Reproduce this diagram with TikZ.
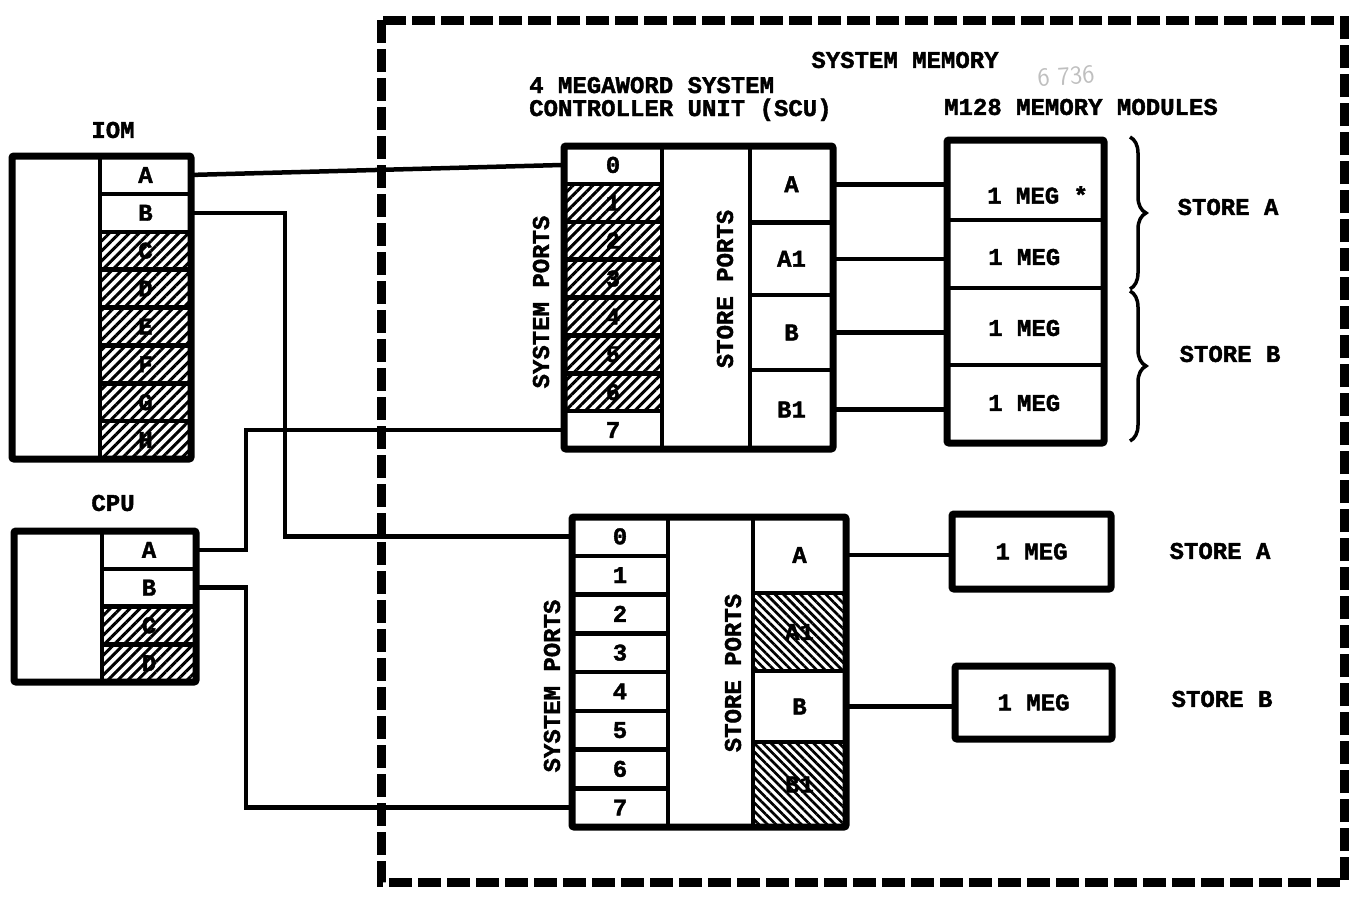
\documentclass[tikz,border=0pt]{standalone}
\usepackage{fontspec}
\newfontfamily\tw{Liberation Mono}[BoldFeatures={FakeBold=1.6}]
\usetikzlibrary{patterns.meta,decorations.pathreplacing}
\begin{document}
\begin{tikzpicture}[x=1pt,y=-1pt,
  every node/.style={font=\tw\bfseries\fontsize{24}{23}\selectfont, inner sep=0pt},
  cellbox/.style={draw, line width=4.5pt, fill=white, inner sep=0pt, outer sep=0pt},
  outerbox/.style={draw, line width=7pt, rounded corners=2pt, inner sep=0pt, outer sep=0pt},
  wire/.style={line width=4.5pt},
  hatchR/.style={line width=4.5pt, pattern={Lines[angle=45,distance=7pt,line width=3pt]}},
  hatchL/.style={line width=4.5pt, pattern={Lines[angle=-45,distance=6pt,line width=2.7pt]}},
  frame/.style={line width=9pt, dash pattern=on 23pt off 6pt},
  curly/.style={line width=3.5pt, decorate, decoration={brace, amplitude=16pt}}
]
\useasboundingbox (0,0) rectangle (1353,897);

% dashed system memory frame
\draw[frame] (381,20) rectangle (1344,882);

% headings
\node (hsys) at (905,60) {SYSTEM MEMORY};
\node[anchor=west, align=left] (hscu) at (529,99) {4 MEGAWORD SYSTEM\\CONTROLLER UNIT (SCU)};
\node (hm128) at (1081,107) {M128 MEMORY MODULES};
\node[text=gray!50, rotate=4, font=\sffamily\fontsize{26}{26}\selectfont] (scrib) at (1066,76) {6 736};
\node (liom) at (113,130) {IOM};
\node (lcpu) at (113,503) {CPU};

% IOM
\foreach \n [count=\i from 0] in {A,B,C,D,E,F,G,H}
  \node[cellbox, minimum width=91, minimum height=37.875] (iom\n) at (145.5,{156+37.875*(\i+0.5)}) {\n};
\foreach \n in {C,D,E,F,G,H}
  \filldraw[hatchR] (iom\n.south west) rectangle (iom\n.north east);
\node[outerbox, minimum width=179, minimum height=303] (iom) at (101.5,307.5) {};

% CPU
\foreach \n [count=\i from 0] in {A,B,C,D}
  \node[cellbox, minimum width=94, minimum height=37.75] (cpu\n) at (149,{531+37.75*(\i+0.5)}) {\n};
\foreach \n in {C,D}
  \filldraw[hatchR] (cpu\n.south west) rectangle (cpu\n.north east);
\node[outerbox, minimum width=182, minimum height=151] (cpu) at (105,606.5) {};

% SCU 1
\foreach \i in {0,...,7}
  \node[cellbox, minimum width=98, minimum height=37.875] (s1p\i) at (613,{146+37.875*(\i+0.5)}) {\i};
\foreach \i in {1,...,6}
  \filldraw[hatchR] (s1p\i.south west) rectangle (s1p\i.north east);
\node[cellbox, minimum width=88, minimum height=303] (s1mid) at (706,297.5) {};
\node[cellbox, minimum width=83, minimum height=76.5] (s1A) at (791.5,184.25) {A};
\node[cellbox, minimum width=83, minimum height=72.5] (s1A1) at (791.5,258.75) {A1};
\node[cellbox, minimum width=83, minimum height=75] (s1B) at (791.5,332.5) {B};
\node[cellbox, minimum width=83, minimum height=79] (s1B1) at (791.5,409.5) {B1};
\node[outerbox, minimum width=269, minimum height=303] (scu1) at (698.5,297.5) {};
\node[rotate=90] (s1sys) at (541,302) {SYSTEM PORTS};
\node[rotate=90] (s1sto) at (725,289) {STORE PORTS};

% SCU 2
\foreach \i in {0,...,7}
  \node[cellbox, minimum width=96, minimum height=38.75] (s2p\i) at (620,{517+38.75*(\i+0.5)}) {\i};
\node[cellbox, minimum width=85, minimum height=310] (s2mid) at (710.5,672) {};
\node[cellbox, minimum width=93, minimum height=76] (s2A) at (799.5,555) {A};
\node[cellbox, minimum width=93, minimum height=78] (s2A1) at (799.5,632) {A1};
\node[cellbox, minimum width=93, minimum height=71] (s2B) at (799.5,706.5) {B};
\node[cellbox, minimum width=93, minimum height=85] (s2B1) at (799.5,784.5) {B1};
\filldraw[hatchL] (s2A1.south west) rectangle (s2A1.north east);
\filldraw[hatchL] (s2B1.south west) rectangle (s2B1.north east);
\node[outerbox, minimum width=274, minimum height=310] (scu2) at (709,672) {};
\node[rotate=90] (s2sys) at (552,686) {SYSTEM PORTS};
\node[rotate=90] (s2sto) at (733,673) {STORE PORTS};

% memory modules (top)
\node[cellbox, minimum width=157, minimum height=80] (m1) at (1025.5,180) {};
\node[cellbox, minimum width=157, minimum height=68] (m2) at (1025.5,254) {};
\node[cellbox, minimum width=157, minimum height=77] (m3) at (1025.5,326.5) {};
\node[cellbox, minimum width=157, minimum height=78] (m4) at (1025.5,404) {};
\node[outerbox, minimum width=157, minimum height=303] (mem) at (1025.5,291.5) {};
\node[anchor=west] (t1) at (987,195) {1 MEG *};
\node[anchor=west] (t2) at (988,257) {1 MEG};
\node[anchor=west] (t3) at (988,328) {1 MEG};
\node[anchor=west] (t4) at (988,403) {1 MEG};
\draw[curly] (1130,137) -- (1130,289);
\draw[curly] (1130,291) -- (1130,441);
\node (sa1) at (1228,207) {STORE A};
\node (sb1) at (1230,354) {STORE B};

% memory modules (bottom)
\node[outerbox, minimum width=159, minimum height=75] (mb1) at (1031.5,551.5) {1 MEG};
\node[outerbox, minimum width=157, minimum height=73] (mb2) at (1033.5,702.5) {1 MEG};
\node (sa2) at (1220,551) {STORE A};
\node (sb2) at (1222,699) {STORE B};

% connectors
\draw[wire] (iomA.east) -- (s1p0.west);
\draw[wire] (iomB.east) -- ++(94,0) |- (s2p0.west);
\draw[wire] (cpuA.east) -- ++(50,0) |- (s1p7.west);
\draw[wire] (cpuB.east) -- ++(50,0) |- (s2p7.west);
\draw[wire] (s1A.east) -- (s1A.east -| m1.west);
\draw[wire] (s1A1.east) -- (s1A1.east -| m2.west);
\draw[wire] (s1B.east) -- (s1B.east -| m3.west);
\draw[wire] (s1B1.east) -- (s1B1.east -| m4.west);
\draw[wire] (s2A.east) -- (s2A.east -| mb1.west);
\draw[wire] (s2B.east) -- (s2B.east -| mb2.west);
\end{tikzpicture}
\end{document}
